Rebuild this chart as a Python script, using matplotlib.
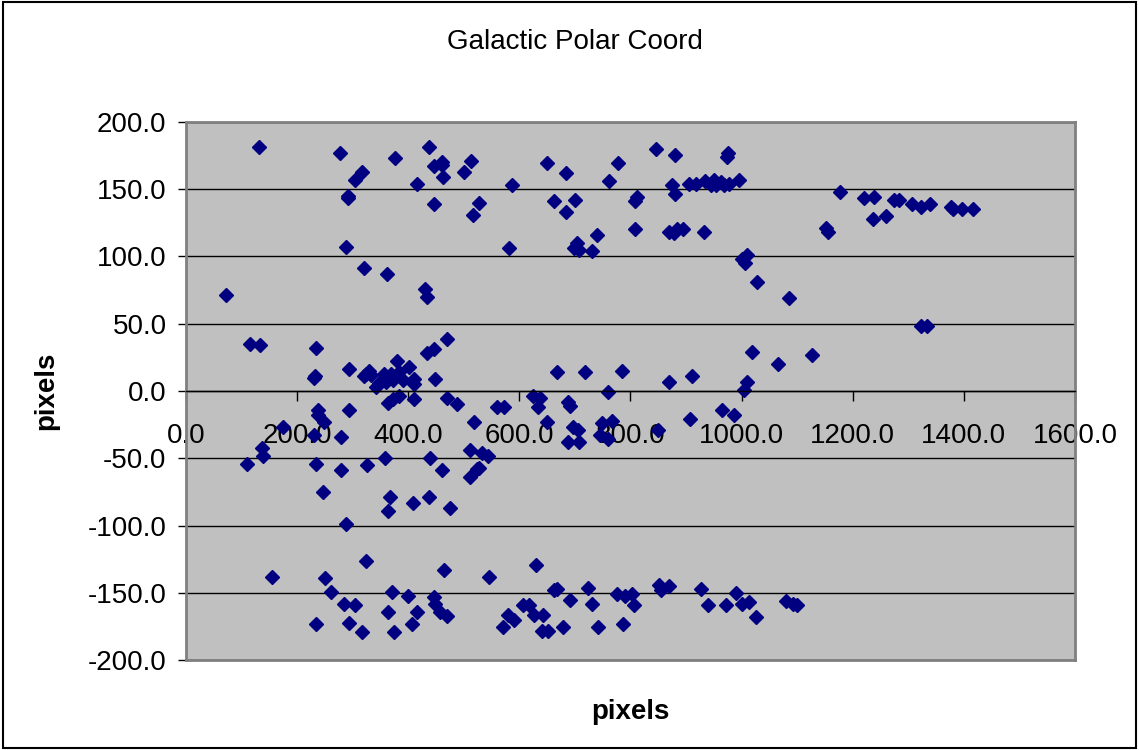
import matplotlib
matplotlib.use("Agg")
import matplotlib.pyplot as plt
from matplotlib.patches import Rectangle
from matplotlib.ticker import FormatStrFormatter, MultipleLocator

# Points (x, y), grouped by band
top_x = [131, 278, 317, 304, 377, 437, 446, 460, 461, 462, 415, 501, 513, 291, 291,
         446, 516, 528, 288, 320, 361, 431, 434, 72, 587, 649, 684, 663, 700, 684,
         761, 778, 808, 812, 809, 846, 881, 875, 881, 870, 878, 884, 894, 932, 906,
         917, 934, 945, 951, 954, 963, 969, 978, 975, 974, 996, 582, 703, 699, 708,
         739, 730, 1000, 1009, 1006, 1027, 1177, 1220, 1238, 1274, 1284, 1306, 1323,
         1339, 1377, 1381, 1397, 1416, 1237, 1260, 1151, 1155, 1085, 1323, 1333]
top_y = [181, 177, 163, 157, 173, 181, 167, 170, 168, 159, 154, 163, 171, 145, 143,
         139, 131, 140, 107, 91, 87, 76, 70, 71, 153, 169, 162, 141, 142, 133,
         156, 169, 141, 144, 120, 180, 175, 153, 146, 118, 117, 120, 120, 118, 154,
         154, 156, 153, 157, 153, 155, 153, 154, 177, 174, 157, 106, 110, 106, 105,
         116, 104, 98, 101, 95, 81, 148, 143, 144, 142, 142, 139, 137,
         139, 137, 135, 135, 135, 128, 130, 121, 118, 69, 48, 48]

mid_x = [116, 133, 234, 469, 434, 447, 294, 231, 232, 321, 330, 333, 380, 401, 324,
         357, 369, 384, 390, 410, 348, 360, 372, 342, 410, 449, 384, 372, 363, 410,
         470, 488, 668, 719, 784, 869, 910, 1018, 1009, 1005, 1126, 1066, 237, 237, 249,
         294, 174, 279, 231, 519, 511, 136, 139, 110, 234, 279, 326, 358, 440, 460,
         511, 524, 533, 544, 527, 246, 367, 364, 409, 437, 476, 288, 560, 572, 624,
         637, 634, 650, 688, 691, 696, 706, 688, 708, 759, 767, 748, 745, 759, 849,
         907, 964, 987]
mid_y = [35, 34, 32, 39, 28, 31, 16, 10, 11, 11, 15, 12, 22, 18, 13,
         13, 13, 14, 8, 9, 6, 7, 8, 3, 5, 9, -4, -6, -9, -6,
         -5, -10, 14, 14, 15, 7, 11, 29, 7, 1, 27, 20, -14, -18, -23,
         -14, -27, -34, -33, -23, -44, -42, -48, -54, -54, -59, -55, -50, -50, -59,
         -64, -58, -46, -48, -57, -75, -79, -89, -83, -79, -87, -99, -12, -12, -4,
         -5, -12, -23, -8, -11, -27, -29, -38, -38, -1, -22, -24, -33, -36, -29,
         -21, -14, -18]

bot_x = [324, 465, 155, 250, 261, 370, 399, 446, 449, 457, 469, 285, 305, 364, 415,
         234, 294, 317, 374, 406, 545, 630, 570, 579, 590, 606, 618, 627, 642, 640,
         651, 662, 667, 679, 691, 723, 730, 742, 776, 790, 803, 806, 787, 852, 855,
         870, 926, 939, 971, 990, 1000, 1014, 1026, 1080, 1092, 1100]
bot_y = [-126, -133, -138, -139, -149, -149, -152, -153, -158, -164, -167, -158, -159, -164, -164,
         -173, -172, -179, -179, -173, -138, -129, -175, -166, -170, -159, -159, -166, -166, -178,
         -178, -148, -147, -175, -155, -146, -158, -175, -151, -152, -151, -159, -173, -144, -148,
         -145, -147, -159, -159, -150, -158, -157, -168, -156, -158, -159]

x_vals = top_x + mid_x + bot_x
y_vals = top_y + mid_y + bot_y

plt.rcParams["font.family"] = ["Liberation Sans", "DejaVu Sans"]
plt.rcParams["axes.unicode_minus"] = False

fig = plt.figure(figsize=(11.39, 7.5), dpi=100)
ax = fig.add_axes([0.1633, 0.1196, 0.7805, 0.7181])
ax.set_facecolor("#c0c0c0")

ax.plot(x_vals, y_vals, linestyle="none", marker="D", markersize=7,
        color="#000080", markeredgecolor="#000080")

ax.set_xlim(0, 1600)
ax.set_ylim(-200, 200)
ax.xaxis.set_major_locator(MultipleLocator(200))
ax.yaxis.set_major_locator(MultipleLocator(50))
ax.xaxis.set_major_formatter(FormatStrFormatter("%.1f"))
ax.yaxis.set_major_formatter(FormatStrFormatter("%.1f"))

ax.grid(axis="y", color="black", linewidth=1.0)
ax.set_axisbelow(True)

for side in ("top", "right", "left"):
    ax.spines[side].set_color("#808080")
    ax.spines[side].set_linewidth(2)
ax.spines["bottom"].set_position(("data", 0))
ax.spines["bottom"].set_color("black")
ax.spines["bottom"].set_linewidth(1.0)
# gray frame along the real bottom edge
ax.axhline(-200, color="#808080", linewidth=2, clip_on=False)

ax.tick_params(axis="x", direction="out", length=7, width=1, pad=16, labelsize=20)
ax.tick_params(axis="y", direction="out", length=6, width=1, pad=8, labelsize=20)

# title is centred on the whole figure, like Excel's chart title
fig.text(0.505, 0.944, "Galactic Polar Coord", fontsize=20, ha="center", va="center")
ax.set_xlabel("pixels", fontsize=20, fontweight="bold")
ax.xaxis.set_label_coords(0.5, -0.072)
ax.set_ylabel("pixels", fontsize=20, fontweight="bold")
ax.yaxis.set_label_coords(-0.143, 0.5)

fig.patches.append(Rectangle((0.003, 0.003), 0.994, 0.994, transform=fig.transFigure,
                             fill=False, edgecolor="black", linewidth=1.5))

fig.savefig("out.png", dpi=100)
